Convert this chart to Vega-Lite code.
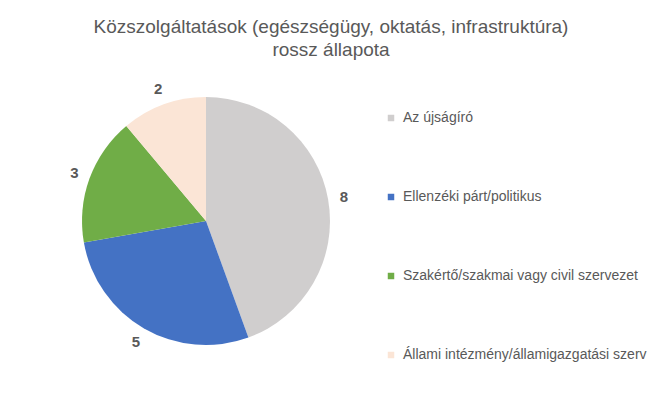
{
  "$schema": "https://vega.github.io/schema/vega-lite/v6.json",
  "width": 248,
  "height": 248,
  "autosize": "none",
  "padding": {"left": 82, "top": 97, "right": 336, "bottom": 58},
  "background": "white",
  "title": {
    "text": ["Közszolgáltatások (egészségügy, oktatás, infrastruktúra)", "rossz állapota"],
    "font": "Liberation Sans",
    "fontSize": 19,
    "fontWeight": "normal",
    "color": "#595959",
    "anchor": "middle",
    "frame": "group",
    "dx": 125,
    "offset": 22,
    "lineHeight": 23
  },
  "data": {
    "values": [
      {"cat": "Az újságíró", "value": 8, "idx": 1},
      {"cat": "Ellenzéki párt/politikus", "value": 5, "idx": 2},
      {"cat": "Szakértő/szakmai vagy civil szervezet", "value": 3, "idx": 3},
      {"cat": "Állami intézmény/államigazgatási szerv", "value": 2, "idx": 4}
    ]
  },
  "encoding": {
    "theta": {"field": "value", "type": "quantitative", "stack": true},
    "order": {"field": "idx", "type": "quantitative"}
  },
  "layer": [
    {
      "mark": {"type": "arc"},
      "encoding": {
        "color": {
          "field": "cat",
          "type": "nominal",
          "sort": null,
          "scale": {
            "domain": ["Az újságíró", "Ellenzéki párt/politikus", "Szakértő/szakmai vagy civil szervezet", "Állami intézmény/államigazgatási szerv"],
            "range": ["#D0CECE", "#4472C4", "#70AD47", "#FBE5D6"]
          },
          "legend": {
            "title": null,
            "orient": "none",
            "legendX": 302,
            "legendY": 14,
            "padding": 0,
            "symbolType": "square",
            "symbolSize": 42,
            "symbolStrokeWidth": 0,
            "labelFont": "Liberation Sans",
            "labelFontSize": 14,
            "labelColor": "#595959",
            "labelOffset": 5,
            "labelLimit": 300,
            "rowPadding": 65
          }
        }
      }
    },
    {
      "mark": {"type": "text", "radius": 140, "font": "Liberation Sans", "fontSize": 15, "fontWeight": "bold", "color": "#595959"},
      "encoding": {
        "text": {"field": "value", "type": "quantitative"}
      }
    }
  ]
}
